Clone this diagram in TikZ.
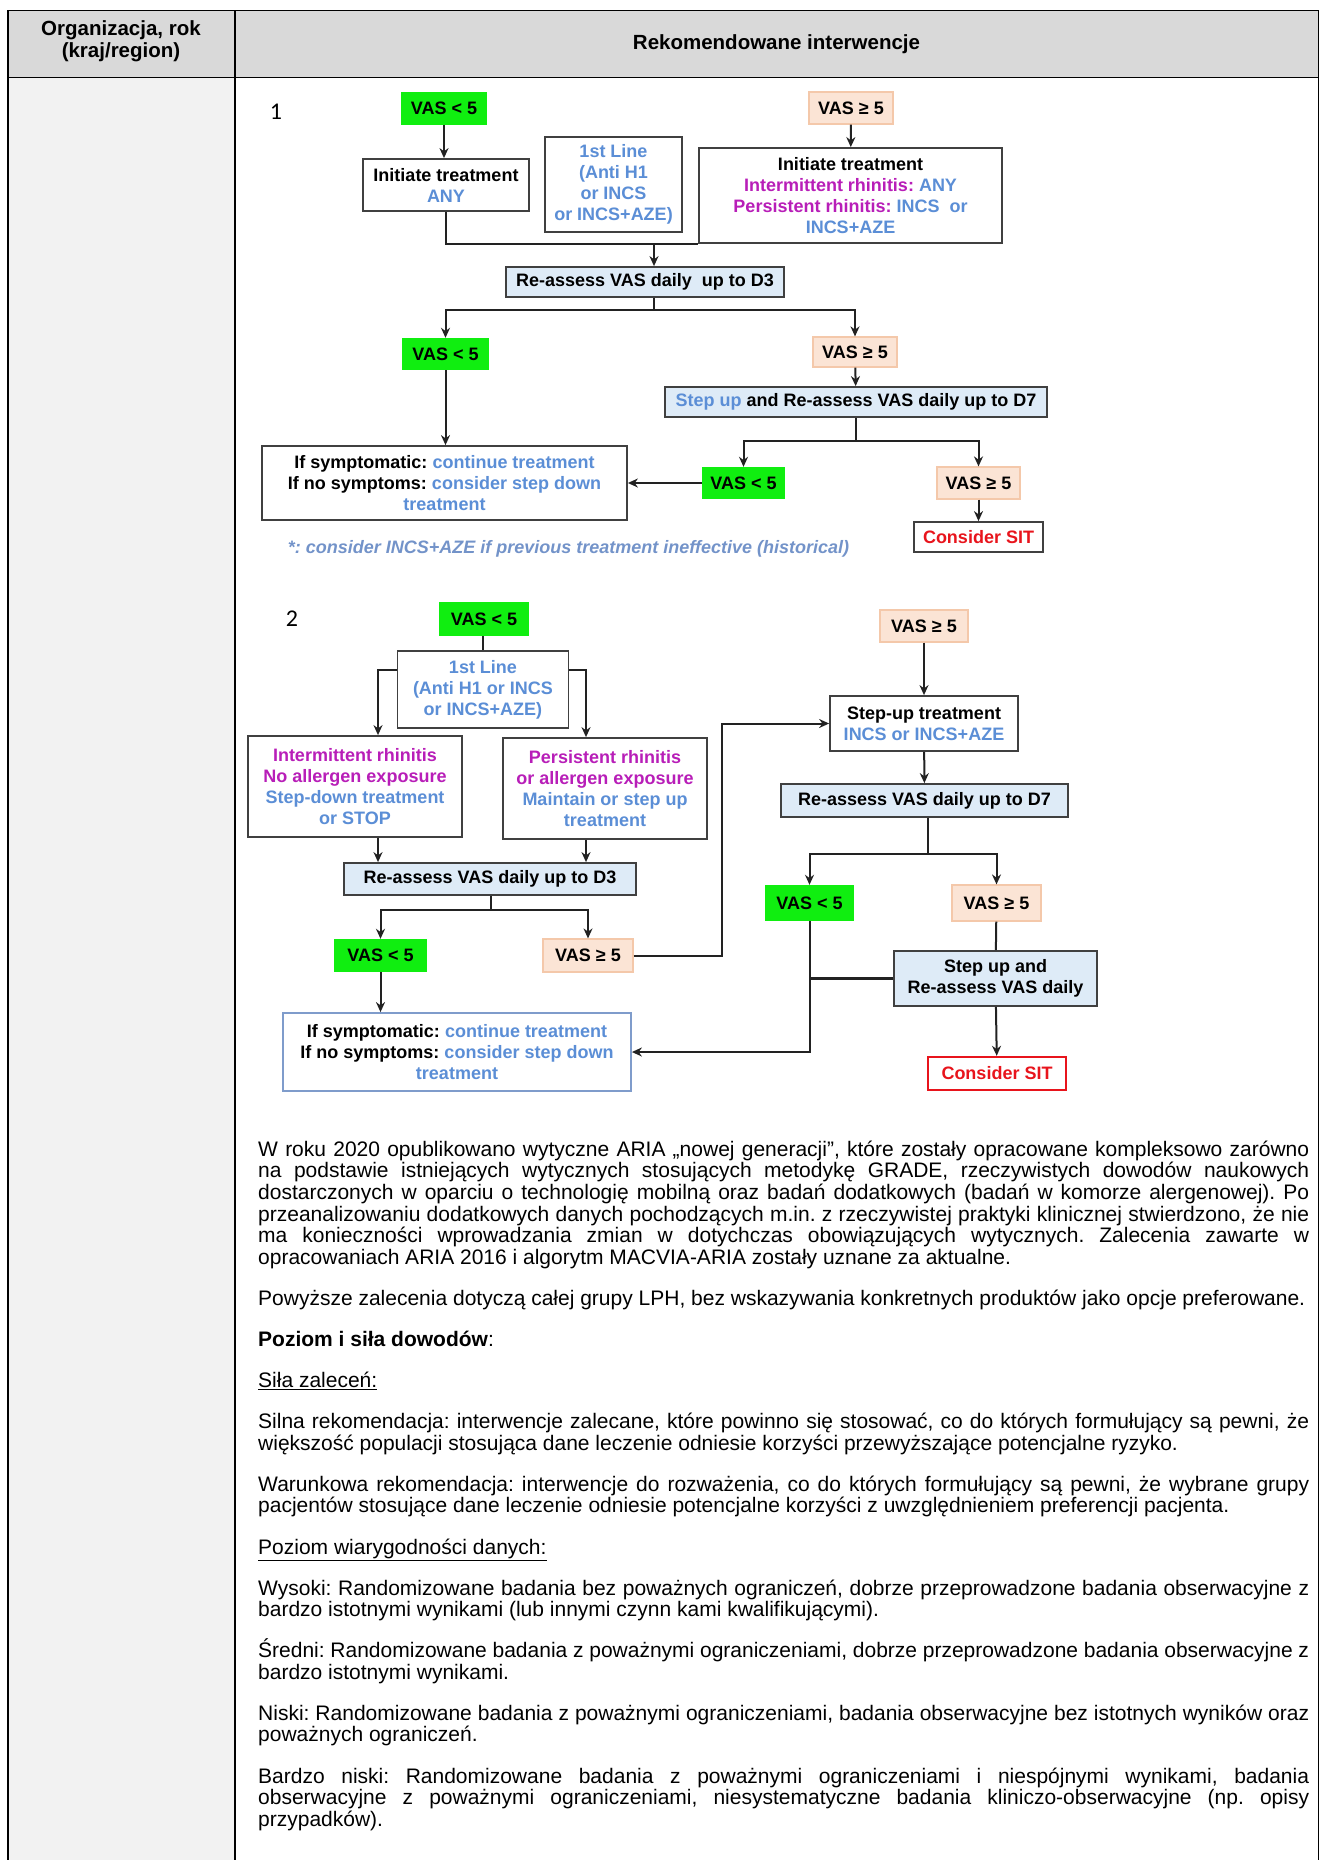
\documentclass[tikz,border=0pt]{standalone}
\usepackage{tikz}
\usetikzlibrary{shapes, arrows, arrows.meta}
\usepackage{fontspec}
\setmainfont{Liberation Sans}
\newfontfamily\numfamily{Carlito}
\usepackage{color}

\definecolor{vgreen}{RGB}{16,238,16}
\definecolor{vpeach}{RGB}{251,228,213}
\definecolor{vpeachline}{RGB}{244,200,170}
\definecolor{checkfill}{RGB}{222,235,247}
\definecolor{txtblue}{RGB}{91,142,214}
\definecolor{txtmag}{RGB}{184,30,184}
\definecolor{sitred}{RGB}{232,20,28}
\definecolor{footblue}{RGB}{115,147,201}
\definecolor{box2line}{RGB}{127,156,203}
\definecolor{boxgray}{RGB}{64,64,64}
\definecolor{linegray}{RGB}{34,34,34}
\definecolor{headgray}{RGB}{217,217,217}
\definecolor{leftgray}{RGB}{242,242,242}

\newcommand\dgfont{\fontsize{18}{21}\selectfont\bfseries}
\newcommand\txtfont{\fontsize{21}{21.7}\selectfont}
\newcommand\hdfont{\fontsize{20.5}{21.5}\selectfont\bfseries}
\newcommand\numfont{\numfamily\fontsize{24}{24}\selectfont}

\hyphenpenalty=10000
\exhyphenpenalty=10000
\tolerance=9999
\frenchspacing

\tikzset{
    plainbox/.style={draw=boxgray, line width=1.8pt, fill=white, align=center, inner sep=0pt, font=\dgfont},
    checkbox/.style={plainbox, fill=checkfill},
    vaslow/.style={fill=vgreen, inner sep=0pt, font=\dgfont},
    vashigh/.style={fill=vpeach, draw=vpeachline, line width=1.2pt, inner sep=0pt, font=\dgfont},
    sitbox/.style={plainbox, text=sitred},
    link/.style={draw=linegray, line width=2pt},
    para/.style={anchor=base west, text width=1051pt, align=justify, inner sep=0pt, font=\txtfont}
}

\begin{document}
\begin{tikzpicture}[x=1pt, y=-1pt, >={Stealth[length=10pt, width=9pt]}]
            \useasboundingbox (0,0) rectangle (1320,1860);
            \fill[headgray] (8,10.5) rectangle (1318.5,77.5);
            \fill[leftgray] (8,77.5) rectangle (235,1860);
            \draw[line width=1.8pt] (8,1860) -- (8,10.5) -- (1318.5,10.5) -- (1318.5,1860);
            \draw[line width=1.8pt] (8,77.5) -- (1318.5,77.5);
            \draw[line width=1.8pt] (235,10.5) -- (235,1860);
            \node[font=\hdfont, align=center] (h1) at (121,41) {Organizacja, rok\\(kraj/region)};
            \node[font=\hdfont] (h2) at (776.5,44) {Rekomendowane interwencje};

            \node[font=\numfont] (l1) at (276,112) {1};
            \node[vaslow, minimum width=86pt, minimum height=33pt] (a0) at (444,108.5) {VAS < 5};
            \node[plainbox, minimum width=166pt, minimum height=52pt] (a1) at (446,185) {Initiate treatment\\\textcolor{txtblue}{ANY}};
            \node[plainbox, text=txtblue, minimum width=137pt, minimum height=95pt] (a2) at (613.5,184.5) {1st Line\\(Anti H1\\or INCS\\or INCS+AZE)};
            \node[vashigh, minimum width=84pt, minimum height=32pt] (a3) at (851,108) {VAS ≥ 5};
            \node[plainbox, minimum width=303pt, minimum height=95pt] (a4) at (850.5,195.5) {Initiate treatment\\\textcolor{txtmag}{Intermittent rhinitis:} \textcolor{txtblue}{ANY}\\\textcolor{txtmag}{Persistent rhinitis:} \textcolor{txtblue}{INCS\ \ or}\\\textcolor{txtblue}{INCS+AZE}};
            \node[checkbox, minimum width=278pt, minimum height=30pt] (a5) at (645,282) {Re-assess VAS daily\ \ up to D3};
            \node[vaslow, minimum width=87pt, minimum height=32pt] (a6) at (445.5,354) {VAS < 5};
            \node[vashigh, minimum width=84pt, minimum height=30pt] (a7) at (855,352) {VAS ≥ 5};
            \node[checkbox, minimum width=382pt, minimum height=30pt] (a8) at (856,402) {\textcolor{txtblue}{Step up} and Re-assess VAS daily up to D7};
            \node[vaslow, minimum width=83pt, minimum height=32pt] (a9) at (743.5,483) {VAS < 5};
            \node[vashigh, minimum width=83pt, minimum height=32pt] (a10) at (978.5,483) {VAS ≥ 5};
            \node[sitbox, minimum width=129pt, minimum height=30pt] (a11) at (978.5,537) {Consider SIT};
            \node[plainbox, minimum width=365pt, minimum height=74pt] (a12) at (444.5,483) {If symptomatic: \textcolor{txtblue}{continue treatment}\\If no symptoms: \textcolor{txtblue}{consider step down}\\\textcolor{txtblue}{treatment}};
            \node[font=\dgfont\itshape, text=footblue] (a13) at (568.5,549) {*: consider INCS+AZE if previous treatment ineffective (historical)};

            \coordinate (c1) at (654,243);
            \coordinate (c2) at (654,310);
            \coordinate (c3) at (856,441);
            \draw[link, ->] (a0.south) -- (a0.south |- a1.north);
            \draw[link, ->] (a3) -- (a4);
            \draw[link] (a1.south) |- (a4.south west);
            \draw[link, ->] (c1) -- (c1 |- a5.north);
            \draw[link] (c1 |- a5.south) -- (c2);
            \draw[link, ->] (c2) -| (a6.north);
            \draw[link, ->] (c2) -| (a7.north);
            \draw[link, ->] (a7) -- (a8);
            \draw[link] (a8.south) -- (c3);
            \draw[link, ->] (c3) -| (a9.north);
            \draw[link, ->] (c3) -| (a10.north);
            \draw[link, ->] (a10) -- (a11);
            \draw[link, ->] (a6.south) -- (a6.south |- a12.north);
            \draw[link, ->] (a9) -- (a12);

            \node[font=\numfont] (l2) at (292,619) {2};
            \node[vaslow, minimum width=90pt, minimum height=34pt] (b0) at (484,619) {VAS < 5};
            \node[plainbox, text=txtblue, minimum width=171pt, minimum height=77pt] (b1) at (483,689.5) {1st Line\\(Anti H1 or INCS\\or INCS+AZE)};
            \node[plainbox, text=txtmag, minimum width=214pt, minimum height=101pt] (b2) at (355,786.5) {Intermittent rhinitis\\No allergen exposure\\\textcolor{txtblue}{Step-down treatment}\\\textcolor{txtblue}{or STOP}};
            \node[plainbox, text=txtmag, minimum width=204pt, minimum height=101pt] (b3) at (605,788.5) {Persistent rhinitis\\or allergen exposure\\\textcolor{txtblue}{Maintain or step up}\\\textcolor{txtblue}{treatment}};
            \node[checkbox, minimum width=292pt, minimum height=32pt] (b4) at (490,879) {Re-assess VAS daily up to D3};
            \node[vaslow, minimum width=93pt, minimum height=33pt] (b5) at (380.5,955.5) {VAS < 5};
            \node[vashigh, minimum width=90pt, minimum height=33pt] (b6) at (588,955.5) {VAS ≥ 5};
            \node[plainbox, draw=box2line, minimum width=348pt, minimum height=78pt] (b14) at (457,1052) {If symptomatic: \textcolor{txtblue}{continue treatment}\\If no symptoms: \textcolor{txtblue}{consider step down}\\\textcolor{txtblue}{treatment}};
            \node[vashigh, minimum width=88pt, minimum height=32pt] (b7) at (924,626) {VAS ≥ 5};
            \node[plainbox, minimum width=188pt, minimum height=55pt] (b8) at (924,723.5) {Step-up treatment\\\textcolor{txtblue}{INCS or INCS+AZE}};
            \node[checkbox, minimum width=287pt, minimum height=33pt] (b9) at (924.5,800.5) {Re-assess VAS daily up to D7};
            \node[vaslow, minimum width=89pt, minimum height=36pt] (b10) at (809.5,903) {VAS < 5};
            \node[vashigh, minimum width=89pt, minimum height=36pt] (b11) at (996.5,903) {VAS ≥ 5};
            \node[checkbox, minimum width=203pt, minimum height=55pt] (b12) at (995.5,978.5) {Step up and\\Re-assess VAS daily};
            \node[sitbox, draw=sitred, line width=2.4pt, minimum width=138pt, minimum height=33pt] (b13) at (997,1073.5) {Consider SIT};

            \coordinate (d1) at (378,670);
            \coordinate (d2) at (586,670);
            \coordinate (d3) at (491,910);
            \coordinate (d4) at (722,723.5);
            \coordinate (d5) at (928,854);
            \draw[link] (b1.north) -- (b1.north |- b0.south);
            \draw[link, ->] (b1.west |- d1) -| (d1 |- b2.north);
            \draw[link, ->] (b1.east |- d2) -| (d2 |- b3.north);
            \draw[link, ->] (d1 |- b2.south) -- (d1 |- b4.north);
            \draw[link, ->] (d2 |- b3.south) -- (d2 |- b4.north);
            \draw[link] (d3 |- b4.south) -- (d3);
            \draw[link, ->] (d3) -| (b5.north);
            \draw[link, ->] (d3) -| (b6.north);
            \draw[link, ->] (b5.south) -- (b5.south |- b14.north);
            \draw[link, ->] (b6.east) -| (d4) -- (b8.west);
            \draw[link, ->] (b7) -- (b8);
            \draw[link, ->] (b8) -- (b9);
            \draw[link] (d5 |- b9.south) -- (d5);
            \draw[link, ->] (d5) -| (b10.north);
            \draw[link, ->] (d5) -| (b11.north);
            \draw[link] (b11) -- (b12);
            \draw[link, ->] (b12) -- (b13);
            \draw[link, ->] (b10.south) |- (b14.east);
            \draw[link, line width=3pt] (b12.west) -- (b12.west -| b10.south);

            \node[para] (t1) at (258,1156) {W roku 2020 opublikowano wytyczne ARIA „nowej generacji”, które zostały opracowane kompleksowo zarówno\linebreak na podstawie istniejących wytycznych stosujących metodykę GRADE, rzeczywistych dowodów naukowych\linebreak dostarczonych w oparciu o technologię mobilną oraz badań dodatkowych (badań w komorze alergenowej). Po\linebreak przeanalizowaniu dodatkowych danych pochodzących m.in. z rzeczywistej praktyki klinicznej stwierdzono, że nie\linebreak ma konieczności wprowadzania zmian w dotychczas obowiązujących wytycznych. Zalecenia zawarte w\linebreak opracowaniach ARIA 2016 i algorytm MACVIA-ARIA zostały uznane za aktualne.};
            \node[para] (t2) at (258,1305.5) {Powyższe zalecenia dotyczą całej grupy LPH, bez wskazywania konkretnych produktów jako opcje preferowane.};
            \node[para] (t3) at (258,1346.5) {\textbf{Poziom i siła dowodów}:};
            \node[para] (t4) at (258,1387.5) {\underline{Siła zaleceń:}};
            \node[para] (t5) at (258,1428.5) {Silna rekomendacja: interwencje zalecane, które powinno się stosować, co do których formułujący są pewni, że\linebreak większość populacji stosująca dane leczenie odniesie korzyści przewyższające potencjalne ryzyko.};
            \node[para] (t6) at (258,1491) {Warunkowa rekomendacja: interwencje do rozważenia, co do których formułujący są pewni, że wybrane grupy\linebreak pacjentów stosujące dane leczenie odniesie potencjalne korzyści z uwzględnieniem preferencji pacjenta.};
            \node[para] (t7) at (258,1554) {\underline{Poziom wiarygodności danych:}};
            \node[para] (t8) at (258,1595) {Wysoki: Randomizowane badania bez poważnych ograniczeń, dobrze przeprowadzone badania obserwacyjne z\linebreak bardzo istotnymi wynikami (lub innymi czynn kami kwalifikującymi).};
            \node[para] (t9) at (258,1657.5) {Średni: Randomizowane badania z poważnymi ograniczeniami, dobrze przeprowadzone badania obserwacyjne z\linebreak bardzo istotnymi wynikami.};
            \node[para] (t10) at (258,1720) {Niski: Randomizowane badania z poważnymi ograniczeniami, badania obserwacyjne bez istotnych wyników oraz\linebreak poważnych ograniczeń.};
            \node[para] (t11) at (258,1783) {Bardzo niski: Randomizowane badania z poważnymi ograniczeniami i niespójnymi wynikami, badania\linebreak obserwacyjne z poważnymi ograniczeniami, niesystematyczne badania kliniczo-obserwacyjne (np. opisy\linebreak przypadków).};
    	\end{tikzpicture}
\end{document}
